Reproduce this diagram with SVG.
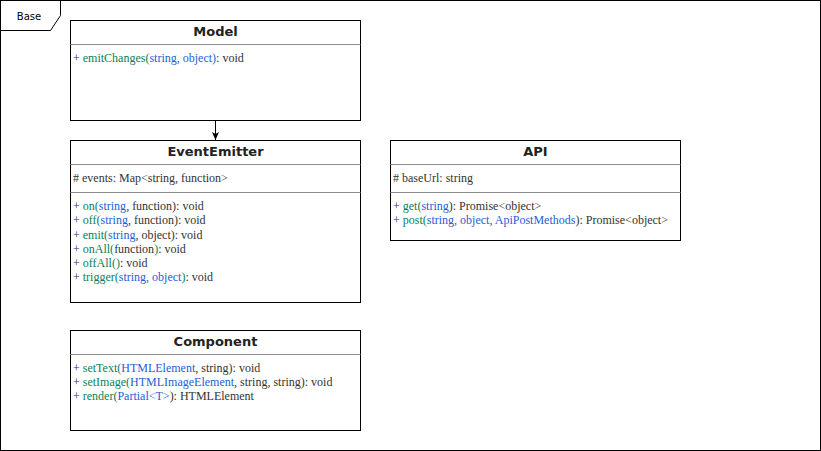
<svg xmlns="http://www.w3.org/2000/svg" width="821" height="451" viewBox="0 0 821 451">
<style>
.box{fill:#fff;stroke:#000;stroke-width:1}
.sep{stroke:#8c8c8c;stroke-width:1}
.title{font-family:"DejaVu Sans",sans-serif;font-weight:bold;font-size:13px;fill:#222;text-anchor:middle}
.t{font-family:"Liberation Serif",serif;font-size:12px;fill:#333}
.g{fill:#0a7f56}
.b{fill:#2360d8}
.lbl{font-family:"DejaVu Sans",sans-serif;font-size:10px;fill:#000;text-anchor:middle}
</style>
<defs>
<marker id="arr" markerWidth="9" markerHeight="9" refX="8" refY="4" orient="auto" markerUnits="userSpaceOnUse" viewBox="0 0 9 8" overflow="visible">
<path d="M0,0.5 L8,4 L0,7.5 L2,4 Z" fill="#000"/>
</marker>
</defs>
<g id="frame">
<rect x="0.5" y="0.5" width="820" height="450" fill="#fff" stroke="#000"/>
<path d="M0.5,0.5 L60.5,0.5 L60.5,15.5 L50.5,30.5 L0.5,30.5" fill="none" stroke="#000"/>
<text class="lbl" x="29" y="19.5">Base</text>
</g>
<g id="connectors">
<line x1="215.5" y1="120.5" x2="215.5" y2="140" stroke="#000" marker-end="url(#arr)"/>
</g>
<g id="Model">
<rect class="box" x="70.5" y="20.5" width="290" height="100"/>
<line class="sep" x1="70.5" y1="44.5" x2="360.5" y2="44.5"/>
<text class="title" x="215.5" y="35.5">Model</text>
<text class="t" x="73" y="62">+ <tspan class="g">emitChanges(</tspan><tspan class="b">string, object)</tspan>: void</text>
</g>
<g id="EventEmitter">
<rect class="box" x="70.5" y="140.5" width="290" height="162"/>
<line class="sep" x1="70.5" y1="164.5" x2="360.5" y2="164.5"/>
<line class="sep" x1="70.5" y1="192.5" x2="360.5" y2="192.5"/>
<text class="title" x="215.5" y="155.5">EventEmitter</text>
<text class="t" x="73" y="182"># events: Map&lt;string, function&gt;</text>
<text class="t" x="73" y="210">+ <tspan class="g">on(</tspan><tspan class="b">string</tspan>, function): void</text>
<text class="t" x="73" y="224">+ <tspan class="g">off(</tspan><tspan class="b">string</tspan>, function): void</text>
<text class="t" x="73" y="239">+ <tspan class="g">emit(</tspan><tspan class="b">string</tspan>, object): void</text>
<text class="t" x="73" y="253">+ <tspan class="g">onAll(</tspan>function<tspan class="g">)</tspan>: void</text>
<text class="t" x="73" y="267">+ <tspan class="g">offAll()</tspan>: void</text>
<text class="t" x="73" y="281">+ <tspan class="g">trigger(</tspan><tspan class="b">string, object</tspan><tspan class="g">)</tspan>: void</text>
</g>
<g id="API">
<rect class="box" x="390.5" y="140.5" width="290" height="100"/>
<line class="sep" x1="390.5" y1="164.5" x2="680.5" y2="164.5"/>
<line class="sep" x1="390.5" y1="192.5" x2="680.5" y2="192.5"/>
<text class="title" x="535.5" y="155.5">API</text>
<text class="t" x="393" y="182"># baseUrl: string</text>
<text class="t" x="393" y="210">+ <tspan class="g">get(</tspan><tspan class="b">string</tspan>): Promise&lt;object&gt;</text>
<text class="t" x="393" y="224">+ <tspan class="g">post(</tspan><tspan class="b">string, object, ApiPostMethods</tspan>): Promise&lt;object&gt;</text>
</g>
<g id="Component">
<rect class="box" x="70.5" y="330.5" width="290" height="100"/>
<line class="sep" x1="70.5" y1="354.5" x2="360.5" y2="354.5"/>
<text class="title" x="215.5" y="345.5">Component</text>
<text class="t" x="73" y="372">+ <tspan class="g">setText(</tspan><tspan class="b">HTMLElement</tspan>, string): void</text>
<text class="t" x="73" y="386">+ <tspan class="g">setImage(</tspan><tspan class="b">HTMLImageElement</tspan>, string, string): void</text>
<text class="t" x="73" y="400">+ <tspan class="g">render(</tspan><tspan class="b">Partial&lt;T&gt;</tspan>): HTMLElement</text>
</g>
</svg>
